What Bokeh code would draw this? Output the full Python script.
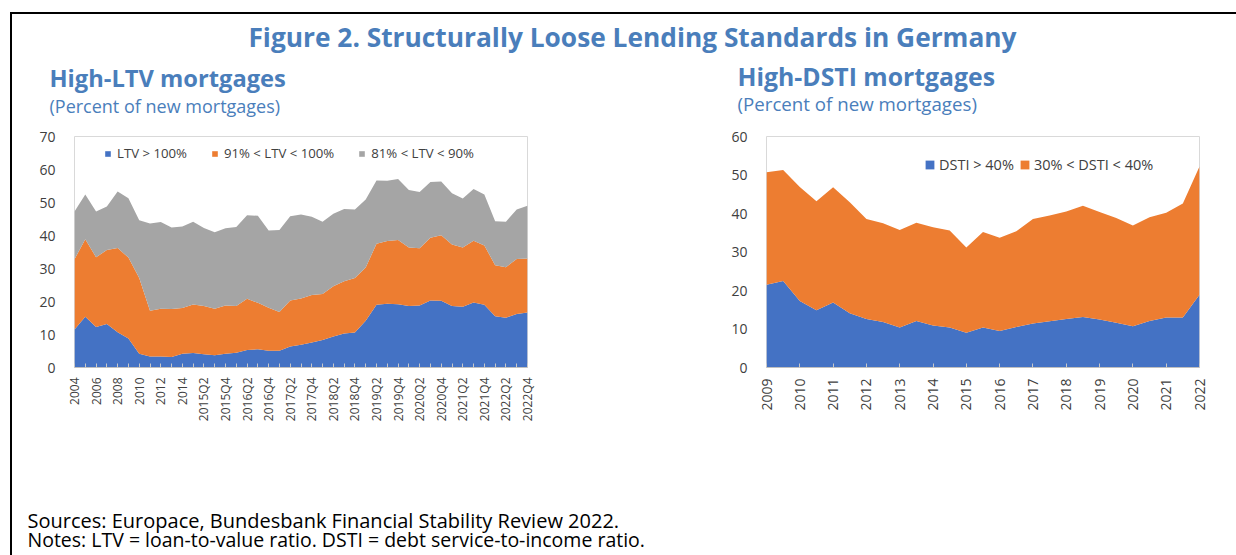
import math
from bokeh.plotting import figure
from bokeh.layouts import row, column, Spacer
from bokeh.models import Range1d, ColumnDataSource, FixedTicker, Div
from bokeh.core.properties import value
from bokeh.embed import file_html
from bokeh.resources import INLINE

# ---------------- data ----------------
ltv_periods = ["2004", "2005", "2006", "2007", "2008", "2009", "2010", "2011", "2012", "2013", "2014",
               "2015Q1", "2015Q2", "2015Q3", "2015Q4", "2016Q1", "2016Q2", "2016Q3", "2016Q4",
               "2017Q1", "2017Q2", "2017Q3", "2017Q4", "2018Q1", "2018Q2", "2018Q3", "2018Q4",
               "2019Q1", "2019Q2", "2019Q3", "2019Q4", "2020Q1", "2020Q2", "2020Q3", "2020Q4",
               "2021Q1", "2021Q2", "2021Q3", "2021Q4", "2022Q1", "2022Q2", "2022Q3", "2022Q4"]
ltv_over_100 = [11.5, 15.4, 12.3, 13.2, 10.7, 8.8, 4.2, 3.3, 3.3, 3.2, 4.2, 4.4, 4.0, 3.7, 4.2, 4.5,
                5.3, 5.5, 5.1, 5.1, 6.4, 6.9, 7.6, 8.3, 9.4, 10.3, 10.6, 14.2, 19.0, 19.3, 19.2, 18.6,
                18.8, 20.3, 20.2, 18.6, 18.4, 19.7, 19.0, 15.5, 15.1, 16.2, 16.7]
ltv_91_100 = [21.3, 23.5, 21.1, 22.4, 25.5, 24.5, 22.9, 13.9, 14.5, 14.5, 13.8, 14.7, 14.6, 14.1, 14.6,
              14.1, 15.5, 14.1, 13.0, 11.7, 13.9, 14.0, 14.4, 14.0, 15.2, 15.8, 16.5, 16.1, 18.5, 19.0,
              19.4, 17.8, 17.3, 19.0, 19.9, 18.7, 18.0, 18.7, 18.0, 15.5, 15.3, 16.7, 16.3]
ltv_81_90 = [14.5, 13.5, 13.9, 13.2, 17.1, 18.0, 17.5, 26.4, 26.3, 24.7, 24.7, 25.1, 23.7, 23.2, 23.4,
             24.0, 25.3, 26.4, 23.4, 24.9, 25.5, 25.5, 23.7, 21.9, 22.0, 21.9, 20.8, 20.6, 19.2, 18.3,
             18.5, 17.4, 17.1, 16.9, 16.3, 15.5, 14.8, 15.7, 15.4, 13.3, 13.8, 15.0, 16.0]
ltv_series_names = ["LTV > 100%", "91% < LTV < 100%", "81% < LTV < 90%"]
ltv_ticks = [0, 10, 20, 30, 40, 50, 60, 70]

dsti_periods = ["2009H1", "2009H2", "2010H1", "2010H2", "2011H1", "2011H2", "2012H1", "2012H2",
                "2013H1", "2013H2", "2014H1", "2014H2", "2015H1", "2015H2", "2016H1", "2016H2",
                "2017H1", "2017H2", "2018H1", "2018H2", "2019H1", "2019H2", "2020H1", "2020H2",
                "2021H1", "2021H2", "2022H1"]
dsti_tick_labels = ["2009", "2010", "2011", "2012", "2013", "2014", "2015", "2016", "2017", "2018",
                    "2019", "2020", "2021", "2022"]
dsti_over_40 = [21.5, 22.5, 17.3, 14.9, 16.9, 14.1, 12.6, 11.8, 10.4, 12.1, 10.9, 10.4, 9.0, 10.4,
                9.5, 10.5, 11.4, 12.0, 12.6, 13.1, 12.5, 11.6, 10.7, 12.1, 13.0, 13.0, 18.9]
dsti_30_40 = [29.2, 28.8, 29.6, 28.3, 29.9, 28.8, 26.0, 25.7, 25.3, 25.5, 25.5, 25.2, 22.2, 24.8,
              24.2, 24.9, 27.2, 27.5, 27.9, 28.9, 27.9, 27.2, 26.2, 26.9, 27.2, 29.6, 33.3]
dsti_series_names = ["DSTI > 40%", "30% < DSTI < 40%"]
dsti_ticks = [0, 10, 20, 30, 40, 50, 60]

# ---------------- style ----------------
FONT = "Open Sans"
BLUE, ORANGE, GRAY = "#4472C4", "#ED7D31", "#A5A5A5"
TITLE_BLUE = "#4a7ebb"
LABEL = "#404040"


def blank(w, h):
    p = figure(width=w, height=h, output_backend="svg", toolbar_location=None, min_border=0,
               title=None, x_range=Range1d(0, w), y_range=Range1d(h, 0),
               x_axis_type=None, y_axis_type=None, outline_line_color=None)
    p.grid.visible = False
    return p


def bar(w, h):
    return Div(text="", width=w, height=h, margin=0, styles={"background-color": "black"})


def put_text(p, x, y, s, size, color, bold=False, align="left"):
    p.text(x=[x], y=[y], text=[s], text_font=value(FONT), text_font_size=size,
           text_font_style="bold" if bold else "normal", text_color=color,
           text_align=align, text_baseline="middle")


def style_chart(p, ticks_y, label_size_x):
    p.grid.visible = False
    p.yaxis.ticker = FixedTicker(ticks=ticks_y)
    p.yaxis.axis_line_color = None
    p.yaxis.major_tick_line_color = None
    p.yaxis.minor_tick_line_color = None
    p.yaxis.major_label_standoff = 13
    p.yaxis.major_label_text_font = FONT
    p.yaxis.major_label_text_font_size = "14px"
    p.yaxis.major_label_text_color = LABEL
    p.xaxis.axis_line_color = "#bfbfbf"
    p.xaxis.major_tick_in = 4
    p.xaxis.major_tick_out = 0
    p.xaxis.major_tick_line_color = "#c8c8c8"
    p.xaxis.minor_tick_line_color = None
    p.xaxis.major_label_orientation = math.pi / 2
    p.xaxis.major_label_text_font = FONT
    p.xaxis.major_label_text_font_size = label_size_x
    p.xaxis.major_label_text_color = LABEL
    p.legend.orientation = "horizontal"
    p.legend.border_line_color = None
    p.legend.background_fill_alpha = 0
    p.legend.padding = 0
    p.legend.margin = 0
    p.legend.label_text_font = FONT
    p.legend.label_text_color = LABEL
    p.legend.label_height = 14


# ---------------- header / footer ----------------
header = blank(1224, 111)
put_text(header, 620, 22, "Figure 2. Structurally Loose Lending Standards in Germany", "26.3px", TITLE_BLUE, bold=True, align="center")
put_text(header, 37, 63, "High-LTV mortgages", "23.7px", TITLE_BLUE, bold=True)
put_text(header, 37, 91, "(Percent of new mortgages)", "18px", TITLE_BLUE)
put_text(header, 725, 61, "High-DSTI mortgages", "24.8px", TITLE_BLUE, bold=True)
put_text(header, 725, 89, "(Percent of new mortgages)", "18.7px", TITLE_BLUE)

footer = blank(1224, 125)
put_text(footer, 15, 90, "Sources: Europace, Bundesbank Financial Stability Review 2022.", "20px", "black")
put_text(footer, 15, 109, "Notes: LTV = loan-to-value ratio. DSTI = debt service-to-income ratio.", "19.5px", "black")

# ---------------- left chart ----------------
ltv_src = ColumnDataSource(dict(x=list(range(len(ltv_periods))), a=ltv_over_100, b=ltv_91_100, c=ltv_81_90))
left = figure(width=628, height=305, title=None, x_range=Range1d(0, len(ltv_periods) - 1), y_range=Range1d(0, 70),
              min_border_left=62, min_border_right=113, min_border_top=9, min_border_bottom=63,
              output_backend="svg", toolbar_location=None, outline_line_color="#d9d9d9")
left.varea_stack(["a", "b", "c"], x="x", color=[BLUE, ORANGE, GRAY], source=ltv_src,
                 legend_label=ltv_series_names)
style_chart(left, ltv_ticks, "12px")
left.xaxis.ticker = FixedTicker(ticks=list(range(len(ltv_periods))))
left.xaxis.major_label_overrides = {i: (lab if i % 2 == 0 else "") for i, lab in enumerate(ltv_periods)}
left.xaxis.major_label_standoff = 10
left.legend.glyph_width = 7
left.legend.glyph_height = 7
left.legend.label_standoff = 6
left.legend.spacing = 24
left.legend.label_text_font_size = "13.2px"
left.legend.location = (30, 205)

# ---------------- right chart ----------------
dsti_src = ColumnDataSource(dict(x=list(range(len(dsti_periods))), a=dsti_over_40, b=dsti_30_40))
right = figure(width=596, height=305, title=None, x_range=Range1d(0, len(dsti_periods) - 1), y_range=Range1d(0, 60),
               min_border_left=126, min_border_right=37, min_border_top=11, min_border_bottom=57,
               output_backend="svg", toolbar_location=None, outline_line_color="#d9d9d9")
right.varea_stack(["a", "b"], x="x", color=[BLUE, ORANGE], source=dsti_src,
                  legend_label=dsti_series_names)
style_chart(right, dsti_ticks, "14px")
right.xaxis.ticker = FixedTicker(ticks=list(range(0, len(dsti_periods), 2)))
right.xaxis.major_label_overrides = {2 * k: lab for k, lab in enumerate(dsti_tick_labels)}
right.xaxis.major_label_standoff = 11
right.legend.glyph_width = 11
right.legend.glyph_height = 11
right.legend.label_standoff = 4
right.legend.spacing = 5
right.legend.label_text_font_size = "14.5px"
right.legend.location = (158, 193)

content = column(header, row(left, right), footer)
main = column(bar(1226, 2), row(bar(2, 541), content))
layout = column(Spacer(width=1236, height=12), row(Spacer(width=10, height=543), main))

open("out.html", "w").write(file_html(layout, INLINE))
